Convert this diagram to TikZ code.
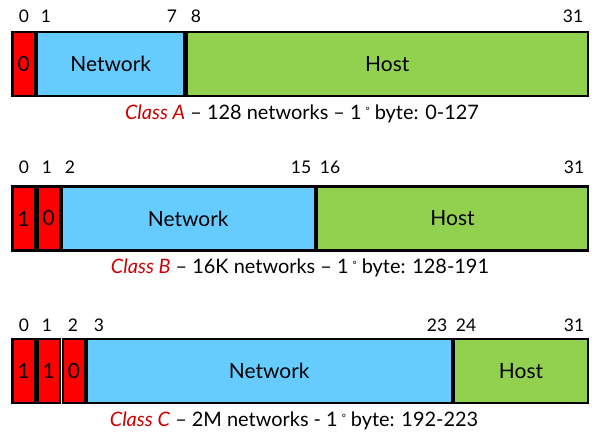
\documentclass[tikz,border=0pt]{standalone}
\usepackage{fontspec}
\setmainfont{Lato}
\definecolor{fred}{HTML}{FF0000}
\definecolor{fblue}{HTML}{66CCFF}
\definecolor{fgreen}{HTML}{92D050}
\definecolor{capred}{HTML}{CC0000}
\tikzset{
  field/.style={draw=black, line width=2.2bp, inner sep=0pt, minimum height=64bp, font=\fontsize{21}{24}\selectfont},
  bitbox/.style={field, fill=fred, minimum width=22.5bp},
  netbox/.style={field, fill=fblue},
  hostbox/.style={field, fill=fgreen},
  bitnum/.style={inner sep=0pt, font=\fontsize{17.5}{20}\selectfont},
  caption/.style={inner sep=0pt, font=\fontsize{20}{23}\selectfont},
}
\newcommand{\cls}[1]{\textcolor{capred}{\textit{Class #1}}}
\newcommand{\degr}{\hspace{4bp}\raisebox{0.55ex}{\fontsize{10}{10}\selectfont °}\hspace{5bp}}
\begin{document}
\begin{tikzpicture}[x=1bp,y=-1bp]
\useasboundingbox (0,0) rectangle (599,438);
% Class A
\node[bitbox] (a0) at (23.75,64) {0};
\node[netbox, minimum width=147.5bp] (anet) at (110.75,64) {Network};
\node[hostbox, minimum width=401.5bp] (ahost) at (387.25,64) {Host};
\node[bitnum] (an0) at (24,16) {0};
\node[bitnum] (an1) at (46,16) {1};
\node[bitnum] (an7) at (172,16) {7};
\node[bitnum] (an8) at (196,16) {8};
\node[bitnum] (an31) at (573,16) {31};
\node[caption] (acap) at (302,114) {\cls{A} – 128 networks – 1\degr byte: 0-127};
% Class B
\node[bitbox] (b0) at (23.75,218.5) {1};
\node[bitbox] (b1) at (48.75,218.5) {0};
\node[netbox, minimum width=253.5bp] (bnet) at (188.25,218.5) {Network};
\node[hostbox, minimum width=271bp] (bhost) at (452.5,218.5) {Host};
\node[bitnum] (bn0) at (24,167) {0};
\node[bitnum] (bn1) at (47,167) {1};
\node[bitnum] (bn2) at (70,167) {2};
\node[bitnum] (bn15) at (301,167) {15};
\node[bitnum] (bn16) at (330,167) {16};
\node[bitnum] (bn31) at (574,167) {31};
\node[caption] (bcap) at (300,268) {\cls{B} – 16K networks – 1\degr byte: 128-191};
% Class C
\node[bitbox] (c0) at (23.75,371) {1};
\node[bitbox] (c1) at (48.75,371) {1};
\node[bitbox] (c2) at (74,371) {0};
\node[netbox, minimum width=365.5bp] (cnet) at (269.25,371) {Network};
\node[hostbox, minimum width=134bp] (chost) at (521,371) {Host};
\node[bitnum] (cn0) at (24,325) {0};
\node[bitnum] (cn1) at (47,325) {1};
\node[bitnum] (cn2) at (73,325) {2};
\node[bitnum] (cn3) at (99,325) {3};
\node[bitnum] (cn23) at (437,325) {23};
\node[bitnum] (cn24) at (466,325) {24};
\node[bitnum] (cn31) at (574,325) {31};
\node[caption] (ccap) at (294,421) {\cls{C} – 2M networks - 1\degr byte: 192-223};
\end{tikzpicture}
\end{document}
